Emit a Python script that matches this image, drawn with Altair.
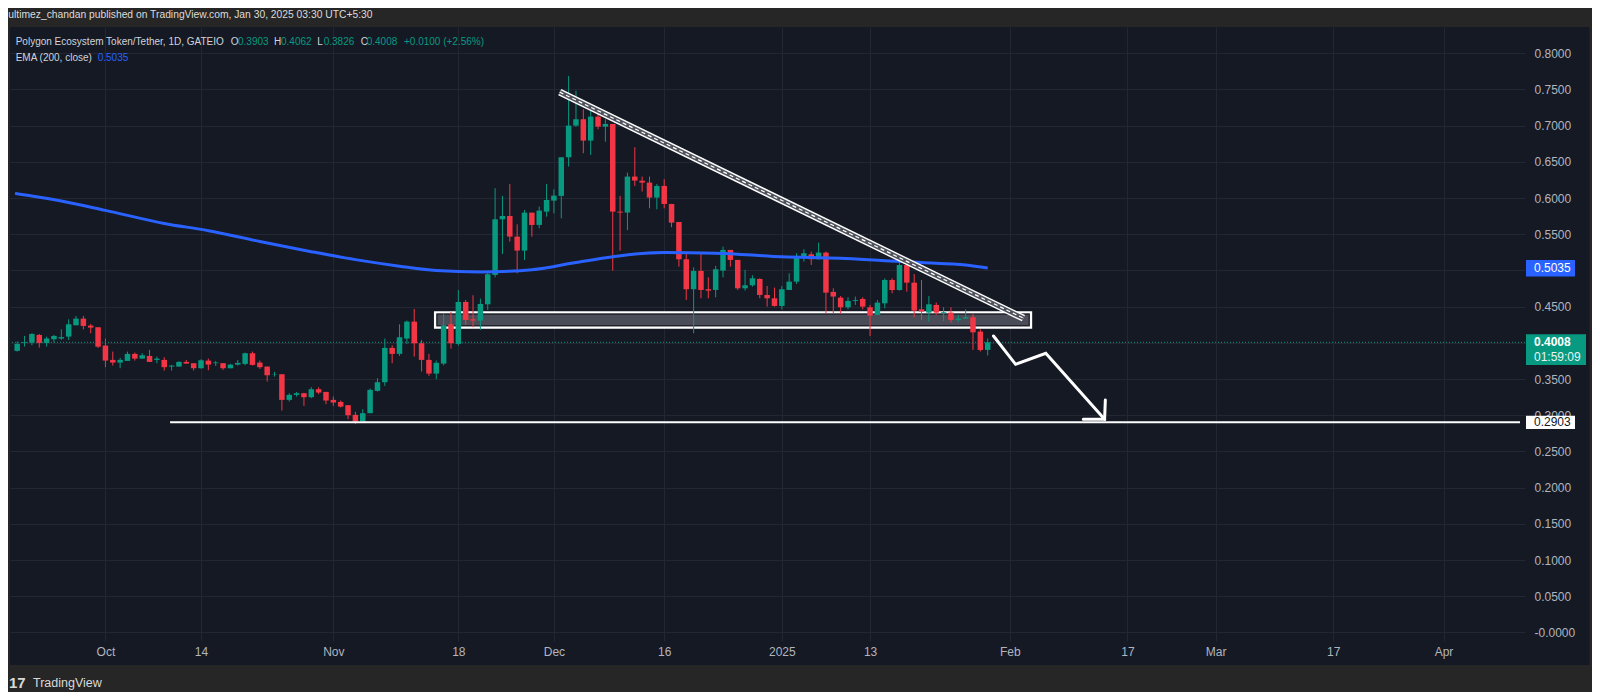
import altair as alt
import pandas as pd

# ---------------- data ----------------
first_day = "2024-09-19"
opens = [0.389, 0.400, 0.4004, 0.411, 0.400, 0.405, 0.406, 0.4087, 0.4243, 0.4335,
         0.4239, 0.4216, 0.3963, 0.3765, 0.3728, 0.3751, 0.3848, 0.3783, 0.382, 0.3765,
         0.3765, 0.3673, 0.3673, 0.3737, 0.3719, 0.365, 0.3755, 0.3719, 0.372, 0.365,
         0.370, 0.371, 0.3857, 0.3728, 0.3673, 0.3558, 0.3567, 0.3213, 0.3282, 0.3305,
         0.325, 0.336, 0.3323, 0.3213, 0.3185, 0.314, 0.3006, 0.2914, 0.3029, 0.3337,
         0.3457, 0.3931, 0.3848, 0.406, 0.4294, 0.3995, 0.3765, 0.3576, 0.3714, 0.4257,
         0.3986, 0.4565, 0.4326, 0.4308, 0.4533, 0.4939, 0.5707, 0.5753, 0.5468, 0.5275,
         0.5799, 0.5629, 0.5813, 0.5965, 0.6030, 0.6564, 0.7001, 0.7089, 0.6794, 0.7125,
         0.6987, 0.7024, 0.5813, 0.5800, 0.6297, 0.6240, 0.6214, 0.6007, 0.6168, 0.5919,
         0.5670, 0.5155, 0.4741, 0.4994, 0.4741, 0.4731, 0.4998, 0.5284, 0.5146, 0.4754,
         0.4796, 0.4883, 0.4662, 0.4616, 0.4510, 0.4731, 0.4846, 0.5183, 0.5224, 0.5155,
         0.5247, 0.4704, 0.4625, 0.4492, 0.4580, 0.4607, 0.4492, 0.4386, 0.4547, 0.4869,
         0.4730, 0.5076, 0.4832, 0.4464, 0.4418, 0.4524, 0.4409, 0.4418, 0.4317, 0.4335,
         0.4354, 0.4156, 0.3903]
highs = [0.402, 0.4096, 0.4133, 0.4124, 0.4087, 0.411, 0.4188, 0.4326, 0.4372, 0.4372,
         0.4262, 0.4216, 0.4059, 0.388, 0.3793, 0.388, 0.3866, 0.3857, 0.3903, 0.3811,
         0.3802, 0.3696, 0.3746, 0.3765, 0.3719, 0.3774, 0.3783, 0.3751, 0.372, 0.371,
         0.3765, 0.3866, 0.388, 0.3756, 0.3673, 0.3600, 0.3567, 0.3305, 0.3323, 0.331,
         0.3388, 0.3388, 0.3323, 0.3259, 0.3204, 0.314, 0.3047, 0.3084, 0.3369, 0.3512,
         0.406, 0.3967, 0.4257, 0.4308, 0.4469, 0.4041, 0.3848, 0.3756, 0.44, 0.4427,
         0.4731, 0.4593, 0.4658, 0.4611, 0.4970, 0.6136, 0.603, 0.6195, 0.5638, 0.5836,
         0.5799, 0.5882, 0.6195, 0.6122, 0.6564, 0.7687, 0.7484, 0.7227, 0.7263, 0.7171,
         0.7089, 0.7024, 0.6030, 0.6352, 0.6702, 0.6297, 0.6297, 0.6195, 0.6260, 0.5919,
         0.5670, 0.5261, 0.5044, 0.5228, 0.4906, 0.5063, 0.5330, 0.5284, 0.5146, 0.5008,
         0.4934, 0.4892, 0.4786, 0.4764, 0.4786, 0.4961, 0.5238, 0.5293, 0.5261, 0.5385,
         0.5261, 0.4754, 0.4648, 0.4630, 0.4639, 0.4630, 0.4524, 0.4593, 0.4892, 0.4892,
         0.5155, 0.5146, 0.4952, 0.4869, 0.4648, 0.4556, 0.4492, 0.4492, 0.4386, 0.4464,
         0.4400, 0.4188, 0.4062]
lows = [0.388, 0.395, 0.3967, 0.3935, 0.3949, 0.4004, 0.404, 0.404, 0.4243, 0.4188,
        0.4133, 0.393, 0.3664, 0.3687, 0.365, 0.3751, 0.3756, 0.3783, 0.3737, 0.3719,
        0.3618, 0.3618, 0.3673, 0.3714, 0.3618, 0.3645, 0.3622, 0.3682, 0.3627, 0.3646,
        0.3687, 0.3691, 0.3687, 0.3641, 0.3466, 0.3535, 0.3066, 0.3190, 0.3259, 0.313,
        0.3236, 0.3291, 0.3153, 0.313, 0.3107, 0.2946, 0.2880, 0.2914, 0.3029, 0.3328,
        0.3406, 0.3719, 0.3820, 0.3986, 0.3811, 0.3604, 0.3544, 0.3498, 0.369, 0.392,
        0.3963, 0.4248, 0.4216, 0.4179, 0.4455, 0.4906, 0.5228, 0.5399, 0.4961, 0.5146,
        0.5468, 0.5583, 0.5744, 0.5790, 0.5721, 0.6435, 0.6987, 0.6619, 0.6596, 0.6950,
        0.6780, 0.4998, 0.5275, 0.5557, 0.6168, 0.6090, 0.5859, 0.5845, 0.5859, 0.5597,
        0.5054, 0.4593, 0.4133, 0.4616, 0.4616, 0.4630, 0.4906, 0.5054, 0.4731, 0.4722,
        0.4777, 0.4616, 0.4501, 0.4501, 0.4464, 0.4731, 0.4814, 0.5123, 0.5077, 0.5155,
        0.4400, 0.4409, 0.4400, 0.4464, 0.4524, 0.4464, 0.4096, 0.4386, 0.4478, 0.4685,
        0.4722, 0.4708, 0.4354, 0.4317, 0.4294, 0.4386, 0.4303, 0.4280, 0.4294, 0.4331,
        0.3902, 0.3880, 0.3826]
closes = [0.3986, 0.401, 0.4124, 0.400, 0.406, 0.4096, 0.408, 0.4257, 0.4335, 0.4234,
          0.4211, 0.3948, 0.3756, 0.3728, 0.3765, 0.3848, 0.3783, 0.3829, 0.3737, 0.3783,
          0.3664, 0.3687, 0.3737, 0.3714, 0.365, 0.376, 0.370, 0.3729, 0.365, 0.370,
          0.3724, 0.3857, 0.3696, 0.3664, 0.3553, 0.3562, 0.3213, 0.3282, 0.3305, 0.325,
          0.336, 0.3314, 0.3204, 0.3176, 0.312, 0.3001, 0.2914, 0.3029, 0.3351, 0.3457,
          0.3931, 0.3848, 0.4078, 0.4294, 0.3995, 0.3765, 0.3576, 0.3724, 0.4243, 0.3995,
          0.4565, 0.4317, 0.4308, 0.4538, 0.4948, 0.5707, 0.5753, 0.5468, 0.5275, 0.5799,
          0.5629, 0.5827, 0.5974, 0.6034, 0.6564, 0.7001, 0.7089, 0.6794, 0.7125, 0.6987,
          0.7024, 0.5813, 0.5800, 0.6297, 0.6242, 0.6214, 0.6007, 0.6168, 0.5919, 0.5661,
          0.5155, 0.4741, 0.4994, 0.4731, 0.4722, 0.5017, 0.5284, 0.5146, 0.4754, 0.4796,
          0.4892, 0.4662, 0.4616, 0.4510, 0.4741, 0.4846, 0.5192, 0.5238, 0.5155, 0.5247,
          0.4694, 0.4640, 0.4492, 0.4580, 0.4593, 0.4501, 0.4377, 0.4556, 0.4869, 0.4730,
          0.5076, 0.4832, 0.4446, 0.4432, 0.4533, 0.4418, 0.4423, 0.4317, 0.4335, 0.4354,
          0.4146, 0.3902, 0.4008]

ema_dates = ["2024-09-18T16:48:00Z", "2024-09-19", "2024-09-25", "2024-10-01", "2024-10-09",
             "2024-10-15", "2024-10-22", "2024-10-29", "2024-11-04", "2024-11-10", "2024-11-15",
             "2024-11-21", "2024-11-28", "2024-12-04", "2024-12-09", "2024-12-16",
             "2024-12-23", "2025-01-01", "2025-01-09", "2025-01-15", "2025-01-20",
             "2025-01-26", "2025-01-29"]
ema_values = [0.6065, 0.606, 0.596, 0.583, 0.565, 0.555, 0.540, 0.526, 0.515, 0.506, 0.500,
              0.498, 0.501, 0.511, 0.519, 0.5247, 0.5238, 0.519, 0.5169, 0.5136, 0.511,
              0.5076, 0.5035]

# drawings
trend_dates = ["2024-12-01T19:00:00Z", "2025-02-02T20:40:00Z"]
trend_prices = [0.7463, 0.4341]
zone_dates = ["2024-11-14T20:00:00Z", "2025-02-03T21:36:00Z"]
zone_prices = [0.4423, 0.4211]
arrow_dates = ["2025-01-29T19:00:00Z", "2025-02-01T19:00:00Z", "2025-02-05T21:36:00Z", "2025-02-13T21:36:00Z"]
arrow_prices = [0.4095, 0.3704, 0.3856, 0.2945]
head_dates = ["2025-02-14T00:00:00Z", "2025-02-13T21:36:00Z", "2025-02-11T00:00:00Z"]
head_prices = [0.3211, 0.2945, 0.2945]
support_dates = ["2024-10-09T19:00:00Z", "2025-04-11T09:36:00Z"]
support_price = 0.2903
last_price = 0.4008
ema_last = 0.5035

tick_dates = ["2024-10-01", "2024-10-14", "2024-11-01", "2024-11-18", "2024-12-01",
              "2024-12-16", "2025-01-01", "2025-01-13", "2025-02-01", "2025-02-17",
              "2025-03-01", "2025-03-17", "2025-04-01"]
price_ticks = [round(0.05 * k, 2) for k in range(17)]

# ---------------- styling ----------------
UP, DOWN = "#089981", "#f23645"
BLUE = "#2962ff"
PANEL, FRAME = "#151924", "#262626"
TXT = "#d1d4dc"
FONT = "Liberation Sans"
W, H = 1515, 614


def dt(s, h=0, m=0):
    y, mo, d = s[:10].split("-")
    return alt.DateTime(year=int(y), month=int(mo), date=int(d), hours=h, minutes=m, utc=True)


def iso(s):
    return s if "T" in s else s + "T00:00:00Z"


XS = alt.Scale(type="utc", domain=[dt("2024-09-18", 16, 48), dt("2025-04-11", 9, 36)])
YS = alt.Scale(domain=[-0.01174, 0.8363], nice=False, zero=False)
XA = alt.Axis(values=[dt(s) for s in tick_dates],
              labelExpr="utcdate(datum.value) == 1 ? (utcmonth(datum.value) == 0 ? utcFormat(datum.value, '%Y') : utcFormat(datum.value, '%b')) : utcFormat(datum.value, '%-d')",
              orient="bottom", labelPadding=5, tickSize=0, ticks=False, domain=False, grid=True)
YA = alt.Axis(values=price_ticks, orient="right",
              labelExpr="abs(datum.value) < 1e-9 ? '-0.0000' : format(datum.value, '.4f')",
              labelPadding=9, tickSize=0, ticks=False, domain=False, grid=True, labelAlign="left")


def X(f):
    return alt.X(f, type="temporal", scale=XS, axis=XA, title=None)


def Y(f):
    return alt.Y(f, type="quantitative", scale=YS, axis=YA, title=None)


dates = pd.date_range(first_day, periods=len(opens), freq="D").strftime("%Y-%m-%dT00:00:00Z")
candles = pd.DataFrame({"date": dates, "open": opens, "high": highs, "low": lows, "close": closes})
candles["dir"] = ["up" if c >= o else "down" for o, c in zip(opens, closes)]
col = alt.Color("dir:N", scale=alt.Scale(domain=["up", "down"], range=[UP, DOWN]), legend=None)

wicks = alt.Chart(candles).mark_rule(strokeWidth=1).encode(x=X("date"), y=Y("low"), y2="high", color=col)
bodies = alt.Chart(candles).mark_bar(size=5.5).encode(x=X("date"), y=Y("open"), y2="close", color=col)

ema = alt.Chart(pd.DataFrame({"date": [iso(d) for d in ema_dates], "v": ema_values})).mark_line(
    color=BLUE, strokeWidth=3, interpolate="monotone").encode(x=X("date"), y=Y("v"))

price_line = alt.Chart(pd.DataFrame({"p": [last_price]})).mark_rule(
    color=UP, strokeDash=[1, 2], strokeWidth=1).encode(y=Y("p"))

zone_df = pd.DataFrame({"x1": [zone_dates[0]], "x2": [zone_dates[1]], "y1": [zone_prices[0]], "y2": [zone_prices[1]]})
zone = alt.Chart(zone_df).mark_rect(fill="#4a4d57", stroke="white", strokeWidth=2.2).encode(
    x=X("x1"), x2="x2", y=Y("y1"), y2="y2")
zone_inner = alt.Chart(zone_df).mark_rect(fill=None, stroke="#1b1e27", strokeWidth=1,
                                          xOffset=2, x2Offset=-2, yOffset=2, y2Offset=-2).encode(
    x=X("x1"), x2="x2", y=Y("y1"), y2="y2")

trend_df = pd.DataFrame({"date": trend_dates, "p": trend_prices})
trend1 = alt.Chart(trend_df).mark_line(color="white", strokeWidth=7).encode(x=X("date"), y=Y("p"))
trend2 = alt.Chart(trend_df).mark_line(color="#50535d", strokeWidth=4.2).encode(x=X("date"), y=Y("p"))
trend3 = alt.Chart(trend_df).mark_line(color="white", strokeWidth=1.2, strokeDash=[4, 3]).encode(x=X("date"), y=Y("p"))

support = alt.Chart(pd.DataFrame({"x1": [support_dates[0]], "x2": [support_dates[1]], "p": [support_price]})).mark_rule(
    color="white", strokeWidth=2).encode(x=X("x1"), x2="x2", y=Y("p"))

arrow_df = pd.DataFrame({
    "date": arrow_dates + head_dates,
    "p": arrow_prices + head_prices,
    "seg": ["a"] * len(arrow_dates) + ["h"] * len(head_dates),
    "k": list(range(len(arrow_dates))) + list(range(len(head_dates))),
})
arrow = alt.Chart(arrow_df).mark_line(color="white", strokeWidth=3, strokeCap="round", strokeJoin="miter").encode(
    x=X("date"), y=Y("p"), detail="seg:N", order="k:Q")


# ---- price-scale tags ----
def tag(price, color, x2, up, down):
    return alt.Chart(pd.DataFrame({"p": [price]})).mark_rect(
        color=color, yOffset=-up, y2Offset=down).encode(
        x=alt.value(W + 1), x2=alt.value(x2), y=Y("p"), y2="p")


def tag_text(price, txt, color, dy=0, weight="normal"):
    return alt.Chart(pd.DataFrame({"p": [price], "t": [txt]})).mark_text(
        align="left", baseline="middle", font=FONT, fontSize=12, color=color, dy=dy, fontWeight=weight).encode(
        x=alt.value(W + 9), y=Y("p"), text="t:N")


tags = [
    tag(ema_last, BLUE, W + 50, 8, 8.5), tag_text(ema_last, "0.5035", "white"),
    tag(last_price, UP, W + 61, 8, 22.7), tag_text(last_price, "0.4008", "white", 0, "bold"),
    tag_text(last_price, "01:59:09", "#e6f5f2", 15),
    tag(support_price, "white", W + 50, 6.6, 6.7), tag_text(support_price, "0.2903", "#131722"),
]


# ---- frame and texts in pixel space ----
def band(x1, x2, y1, y2, color):
    return alt.Chart(pd.DataFrame({"a": [0]})).mark_rect(color=color).encode(
        x=alt.value(x1), x2=alt.value(x2), y=alt.value(y1), y2=alt.value(y2))


def txt(s, x, y, color=TXT, size=10, weight="normal"):
    return alt.Chart(pd.DataFrame({"t": [s]})).mark_text(
        align="left", baseline="middle", font=FONT, fontSize=size, color=color, fontWeight=weight).encode(
        x=alt.value(x), y=alt.value(y), text="t:N")


frame = [band(-2, 1582, -19, 0, FRAME), band(-2, 1582, 638, 666, FRAME),
         band(1579.5, 1582, -19, 666, FRAME), band(-2, 0, -19, 666, FRAME)]

texts = [
    txt("ultimez_chandan published on TradingView.com, Jan 30, 2025 03:30 UTC+5:30", -1.7, -12, "#dcdcdc", 10.3),
    txt("Polygon Ecosystem Token/Tether, 1D, GATEIO", 5.7, 14.7),
    txt("O", 220.7, 14.7), txt("0.3903", 228, 14.7, UP),
    txt("H", 264, 14.7), txt("0.4062", 271, 14.7, UP),
    txt("L", 307.3, 14.7), txt("0.3826", 313.7, 14.7, UP),
    txt("C", 350.7, 14.7), txt("0.4008", 356.7, 14.7, UP),
    txt("+0.0100 (+2.56%)", 394, 14.7, UP),
    txt("EMA (200, close)", 5.7, 31.3), txt("0.5035", 87.7, 31.3, BLUE),
    txt("17", -1, 655.7, "#d9d9d9", 15, "bold"),
    txt("TradingView", 23, 655.7, "#d9d9d9", 12.5),
]

chart = alt.layer(
    price_line, zone, zone_inner, wicks, bodies, ema, trend1, trend2, trend3, support, arrow,
    *tags, *frame, *texts
).properties(
    width=W, height=H,
    autosize=alt.AutoSizeParams(type="none"),
    padding={"left": 2, "top": 19, "right": 67, "bottom": 51},
    background=PANEL,
).configure_view(stroke=None).configure_axis(
    gridColor="#232733", gridWidth=1, labelFont=FONT, labelFontSize=12, labelColor="#b2b5be",
)

chart.save("out.html", embed_options={"renderer": "svg", "actions": False})
